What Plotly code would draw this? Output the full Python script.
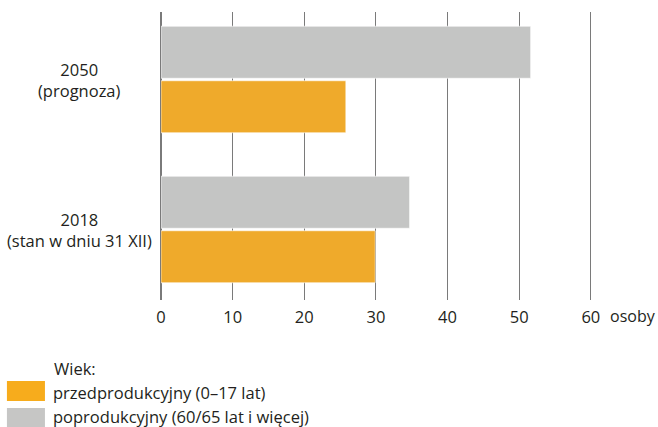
import plotly.graph_objects as go

# ---- data ----
categories = ["2018", "2050"]
category_labels = ["2018<br>(stan w dniu 31 XII)", "2050<br>(prognoza)"]
series_names = ["przedprodukcyjny (0–17 lat)", "poprodukcyjny (60/65 lat i więcej)"]
pre_productive = [29.9, 25.8]
post_productive = [34.7, 51.6]
x_ticks = [0, 10, 20, 30, 40, 50, 60]
x_unit = "osoby"
legend_title = "Wiek:"

# ---- style ----
W, H = 658, 427
ML, MT = 161, 12
PW, PH = 436.8, 288
MR = W - ML - PW
MB = H - MT - PH
FONT = "Open Sans"
FS = 16.5
TXT = "#231f20"
ORANGE = "#EFAA2B"
GRAY = "#C4C5C4"
ORANGE_LEG = "#F7AC1C"
GRAY_LEG = "#C6C6C5"


def px(x):
    return (x - ML) / PW


def py(y):
    return (MT + PH - y) / PH


fig = go.Figure()
fig.add_trace(go.Bar(y=categories, x=pre_productive, orientation="h",
                     name=series_names[0], marker=dict(color=ORANGE, line=dict(color="rgba(255,255,255,0.6)", width=1)),
                     showlegend=False))
fig.add_trace(go.Bar(y=categories, x=post_productive, orientation="h",
                     name=series_names[1], marker=dict(color=GRAY, line=dict(color="rgba(255,255,255,0.6)", width=1)),
                     showlegend=False))

fig.update_layout(
    width=W, height=H,
    margin=dict(l=ML, r=MR, t=MT, b=MB, pad=0),
    paper_bgcolor="white", plot_bgcolor="white",
    barmode="group", bargap=0.273, bargroupgap=0.046,
    font=dict(family=FONT, size=FS, color=TXT),
    xaxis=dict(range=[0, 61], tickvals=x_ticks, showgrid=True, gridcolor="#7a7a7a", gridwidth=1.3,
               zeroline=True, zerolinecolor="#7a7a7a", zerolinewidth=2, showline=False,
               ticks="", ticklabelstandoff=5, tickfont=dict(size=FS, color=TXT)),
    yaxis=dict(type="category", categoryorder="array", categoryarray=categories,
               range=[-0.47, 1.45], showticklabels=False, showgrid=False, zeroline=False, ticks=""),
)

# category labels (y given as category index)
for i, lab in enumerate(category_labels):
    fig.add_annotation(x=px(80), xref="paper", y=i, yref="y", text=lab, showarrow=False,
                       xanchor="center", yanchor="middle", align="center",
                       font=dict(size=FS, color=TXT))

# unit label
fig.add_annotation(x=px(608), xref="paper", y=py(316), yref="paper", text=x_unit, showarrow=False,
                   xanchor="left", yanchor="middle", font=dict(size=16, color=TXT))

# manual legend
fig.add_annotation(x=px(52), xref="paper", y=py(368), yref="paper", text=legend_title, showarrow=False,
                   xanchor="left", yanchor="middle", font=dict(size=FS, color=TXT))
legend_rows = [(series_names[0], ORANGE_LEG, 381, 401, 392), (series_names[1], GRAY_LEG, 408, 427, 416)]
for name, col, y0, y1, yt in legend_rows:
    fig.add_shape(type="rect", xref="paper", yref="paper", x0=px(7), x1=px(45), y0=py(y1), y1=py(y0),
                  fillcolor=col, line=dict(width=0))
    fig.add_annotation(x=px(52), xref="paper", y=py(yt), yref="paper", text=name, showarrow=False,
                       xanchor="left", yanchor="middle", borderpad=0, font=dict(size=FS, color=TXT))

fig.write_html("out.html", config={"displayModeBar": False},
               post_script="document.body.style.margin='0px';document.body.style.overflow='hidden';")
